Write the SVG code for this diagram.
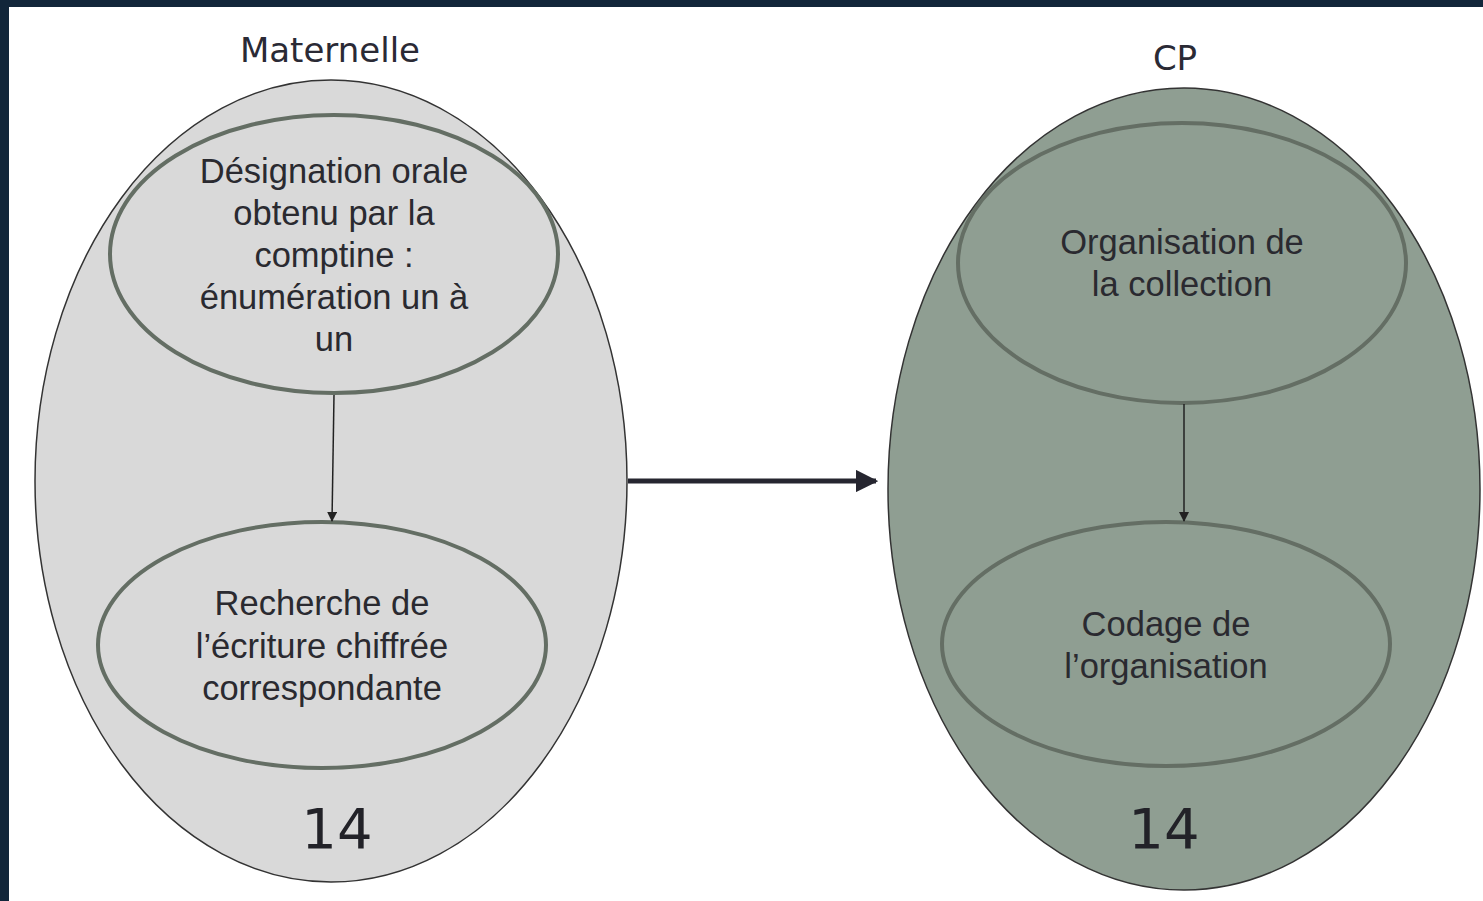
<svg xmlns="http://www.w3.org/2000/svg" width="1483" height="901" viewBox="0 0 1483 901">
<defs>
<marker id="ah" viewBox="0 0 10 10" refX="9" refY="5" markerWidth="10" markerHeight="10" markerUnits="userSpaceOnUse" orient="auto"><path d="M0,0 L10,5 L0,10 z" fill="#222"/></marker>
<marker id="ahBig" viewBox="0 0 10 10" refX="9" refY="5" markerWidth="4.5" markerHeight="4.5" orient="auto"><path d="M0,0 L10,5 L0,10 z" fill="#262630"/></marker>
</defs>
<style>
.outer{stroke:#333;stroke-width:1.5}
.inner{stroke:#646e64;stroke-width:4;fill:none}
.lbl{font-family:"Liberation Sans",Arial,sans-serif;font-size:34.5px;fill:#2a2a30;text-anchor:middle}
.ttl{font-family:"DejaVu Sans",Verdana,sans-serif;font-size:34px;fill:#2a2a35;text-anchor:middle}
.num{font-family:"DejaVu Sans",Verdana,sans-serif;font-size:56px;fill:#222228;text-anchor:middle}
</style>
<rect width="1483" height="901" fill="#12263a"/>
<rect x="9" y="7" width="1474" height="894" fill="#ffffff"/>
<g id="maternelle">
<ellipse class="outer" cx="331" cy="481" rx="296" ry="401" fill="#d9d9d9"/>
<text class="ttl" x="330" y="62">Maternelle</text>
<text class="num" x="337" y="848">14</text>
</g>
<g id="designation">
<ellipse class="inner" cx="334" cy="254" rx="224" ry="139"/>
<text class="lbl" x="334" y="183">Désignation orale</text>
<text class="lbl" x="334" y="225">obtenu par la</text>
<text class="lbl" x="334" y="267">comptine :</text>
<text class="lbl" x="334" y="309">énumération un à</text>
<text class="lbl" x="334" y="351">un</text>
</g>
<g id="recherche">
<ellipse class="inner" cx="322" cy="645" rx="224" ry="123"/>
<text class="lbl" x="322" y="615">Recherche de</text>
<text class="lbl" x="322" y="658">l’écriture chiffrée</text>
<text class="lbl" x="322" y="700">correspondante</text>
</g>
<g id="cp">
<ellipse class="outer" cx="1184" cy="489" rx="296" ry="401" fill="#8f9e92"/>
<text class="ttl" x="1175" y="70">CP</text>
<text class="num" x="1164" y="848">14</text>
</g>
<g id="organisation">
<ellipse class="inner" cx="1182" cy="263" rx="224" ry="140"/>
<text class="lbl" x="1182" y="254">Organisation de</text>
<text class="lbl" x="1182" y="296">la collection</text>
</g>
<g id="codage">
<ellipse class="inner" cx="1166" cy="644" rx="224" ry="122"/>
<text class="lbl" x="1166" y="636">Codage de</text>
<text class="lbl" x="1166" y="678">l’organisation</text>
</g>
<g id="connectors">
<line x1="628" y1="481" x2="876" y2="481" stroke="#262630" stroke-width="5" marker-end="url(#ahBig)"/>
<line x1="334" y1="395" x2="332" y2="521" stroke="#222" stroke-width="1.5" marker-end="url(#ah)"/>
<line x1="1184" y1="404" x2="1184" y2="521" stroke="#222" stroke-width="1.5" marker-end="url(#ah)"/>
</g>
</svg>
